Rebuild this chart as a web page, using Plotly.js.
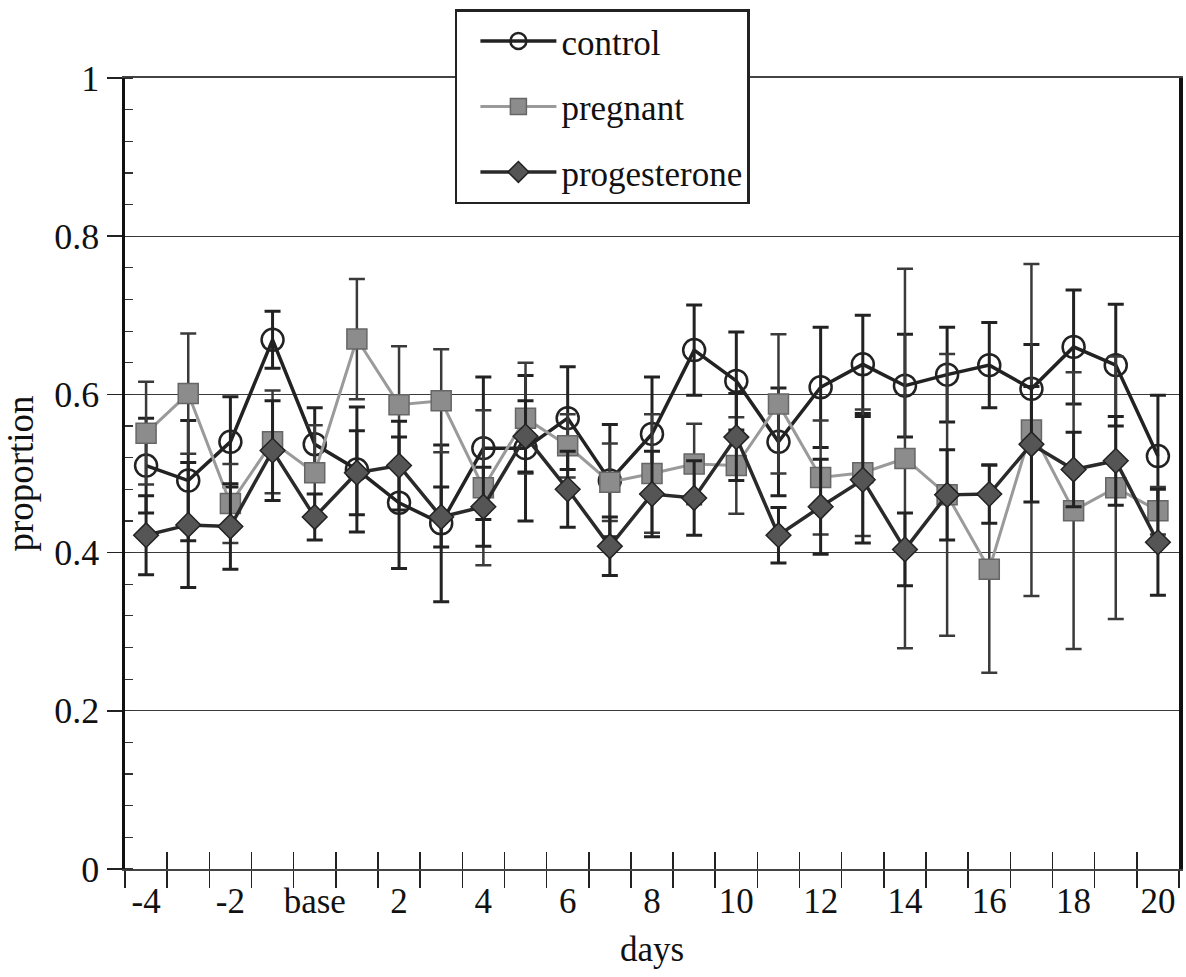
<!DOCTYPE html>
<html>
<head>
<meta charset="utf-8">
<script src="https://cdn.plot.ly/plotly-3.0.1.min.js"></script>
<style>
  html, body { margin: 0; padding: 0; background: #ffffff; }
  #chart { width: 1186px; height: 977px; }
</style>
</head>
<body>
<div id="chart"></div>
<script>
// ---- data ----
const categories = ['-4','-3','-2','-1','base','1','2','3','4','5','6','7','8','9','10',
                    '11','12','13','14','15','16','17','18','19','20'];
const tickLabels = ['-4','','-2','','base','','2','','4','','6','','8','','10',
                    '','12','','14','','16','','18','','20'];

const control = [0.510, 0.491, 0.540, 0.669, 0.537, 0.505, 0.463, 0.437, 0.532, 0.532,
                 0.570, 0.491, 0.550, 0.656, 0.617, 0.540, 0.609, 0.638, 0.611, 0.625,
                 0.637, 0.607, 0.660, 0.637, 0.522];
const controlErr = [0.060, 0.076, 0.057, 0.036, 0.046, 0.079, 0.083, 0.099, 0.090, 0.092,
                    0.065, 0.071, 0.072, 0.057, 0.062, 0.068, 0.076, 0.062, 0.065, 0.060,
                    0.054, 0.056, 0.072, 0.077, 0.077];

const pregnant = [0.551, 0.601, 0.462, 0.540, 0.501, 0.670, 0.587, 0.592, 0.482, 0.570,
                  0.535, 0.489, 0.500, 0.512, 0.510, 0.588, 0.495, 0.501, 0.519, 0.473,
                  0.379, 0.555, 0.453, 0.482, 0.453];
const pregnantErr = [0.065, 0.076, 0.050, 0.065, 0.060, 0.076, 0.074, 0.065, 0.098, 0.070,
                     0.040, 0.049, 0.075, 0.051, 0.061, 0.088, 0.072, 0.080, 0.240, 0.178,
                     0.131, 0.210, 0.175, 0.166, 0.030];

const progesterone = [0.422, 0.435, 0.433, 0.529, 0.445, 0.501, 0.510, 0.445, 0.458, 0.547,
                      0.480, 0.408, 0.474, 0.469, 0.546, 0.422, 0.458, 0.492, 0.404, 0.473,
                      0.474, 0.537, 0.505, 0.516, 0.413];
const progesteroneErr = [0.050, 0.079, 0.054, 0.063, 0.029, 0.053, 0.056, 0.038, 0.050, 0.045,
                         0.048, 0.037, 0.054, 0.047, 0.055, 0.035, 0.060, 0.080, 0.046, 0.057,
                         0.037, 0.073, 0.047, 0.056, 0.067];

const FONT = 'Liberation Serif, Times New Roman, serif';

const traces = [
  {
    name: 'control', x: categories, y: control, type: 'scatter', mode: 'lines+markers',
    legendgroup: 'g1',
    line: { color: '#222222', width: 3.5 },
    marker: { symbol: 'circle-open', size: 22, color: '#222222', line: { width: 2.5, color: '#222222' } },
    error_y: { type: 'data', array: controlErr, visible: true, color: '#222222', thickness: 3, width: 8 }
  },
  {
    name: 'pregnant', x: categories, y: pregnant, type: 'scatter', mode: 'lines+markers',
    legendgroup: 'g2',
    line: { color: '#9a9a9a', width: 3 },
    marker: { symbol: 'square', size: 20, color: '#8c8c8c', line: { width: 1.5, color: '#666666' } },
    error_y: { type: 'data', array: pregnantErr, visible: true, color: '#3a3a3a', thickness: 2.5, width: 8 }
  },
  {
    name: 'progesterone', x: categories, y: progesterone, type: 'scatter', mode: 'lines+markers',
    legendgroup: 'g3', xaxis: 'x2',
    line: { color: '#2a2a2a', width: 3.5 },
    marker: { symbol: 'diamond', size: 19, color: '#555555', line: { width: 1.5, color: '#222222' } },
    error_y: { type: 'data', array: progesteroneErr, visible: true, color: '#222222', thickness: 3, width: 8 }
  }
];

const xCommon = {
  type: 'category',
  categoryorder: 'array',
  categoryarray: categories,
  range: [-0.5, categories.length - 0.5],
  tickson: 'boundaries',
  tickvals: categories,
  ticktext: tickLabels,
  tickangle: 0,
  ticklen: 17,
  tickwidth: 1.5,
  tickcolor: '#222222',
  showgrid: false,
  zeroline: false
};

const layout = {
  width: 1186, height: 977,
  paper_bgcolor: '#ffffff', plot_bgcolor: '#ffffff',
  margin: { l: 125, r: 7, t: 78, b: 108 },
  font: { family: FONT, color: '#111111', size: 35 },
  showlegend: true,
  xaxis: Object.assign({}, xCommon, {
    ticks: 'outside',
    showline: true, linecolor: '#444444', linewidth: 2, mirror: true,
    tickfont: { family: FONT, size: 35, color: '#111111' },
    title: { text: 'days', font: { family: FONT, size: 35, color: '#111111' }, standoff: 16 },
    automargin: false
  }),
  xaxis2: Object.assign({}, xCommon, {
    overlaying: 'x', anchor: 'y', side: 'bottom',
    ticks: 'inside', showticklabels: false, showline: false
  }),
  yaxis: {
    range: [0, 1],
    tickvals: [0, 0.2, 0.4, 0.6, 0.8, 1],
    ticktext: ['0', '0.2', '0.4', '0.6', '0.8', '1'],
    ticks: 'outside', ticklen: 15, tickwidth: 1.5, tickcolor: '#222222',
    minor: { dtick: 0.04, ticks: 'inside', ticklen: 8, tickwidth: 1.2, tickcolor: '#333333', showgrid: false },
    showgrid: true, gridcolor: '#3a3a3a', gridwidth: 1.3,
    zeroline: false,
    showline: true, linecolor: '#111111', linewidth: 3.5, mirror: true,
    tickfont: { family: FONT, size: 36, color: '#111111' },
    title: { text: 'proportion', font: { family: FONT, size: 37, color: '#111111' }, standoff: 12 },
    automargin: false
  },
  legend: {
    x: 0.313, y: 1.087, xanchor: 'left', yanchor: 'top',
    bgcolor: '#ffffff', bordercolor: '#222222', borderwidth: 2.5,
    font: { family: FONT, size: 35, color: '#111111' },
    tracegroupgap: 17,
    indentation: 18,
    itemwidth: 76,
    itemsizing: 'trace'
  }
};

Plotly.newPlot('chart', traces, layout, { staticPlot: true, displayModeBar: false });
</script>
</body>
</html>
